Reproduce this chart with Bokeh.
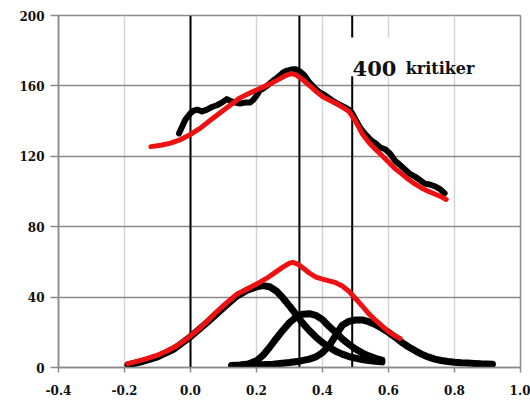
from bokeh.plotting import figure
from bokeh.models import Range1d, FixedTicker, Span, Label, BoxAnnotation
from bokeh.embed import file_html
from bokeh.resources import INLINE

# Upper panel: measured profile (black) and its smooth fit (red)
upper_meas_x = [-0.035, -0.025, -0.015, 0.0, 0.01, 0.02, 0.035, 0.05, 0.065, 0.08,
                0.095, 0.11, 0.12, 0.135, 0.15, 0.165, 0.18, 0.19, 0.2, 0.21,
                0.22, 0.235, 0.25, 0.265, 0.28, 0.29, 0.3, 0.31, 0.32, 0.333,
                0.345, 0.36, 0.375, 0.39, 0.405, 0.42, 0.435, 0.45, 0.465, 0.48,
                0.49, 0.5, 0.515, 0.53, 0.545, 0.56, 0.575, 0.59, 0.605, 0.62,
                0.635, 0.65, 0.665, 0.68, 0.695, 0.71, 0.725, 0.74, 0.755, 0.77]
upper_meas_y = [133.0, 137.0, 141.0, 144.5, 146.0, 146.5, 145.5, 146.5, 148.0, 149.0,
                150.5, 152.5, 151.5, 150.5, 150.0, 150.5, 150.5, 152.0, 154.5, 157.5,
                158.5, 160.5, 163.0, 165.0, 167.5, 168.5, 169.0, 169.5, 169.5, 168.0,
                166.0, 162.0, 159.0, 156.5, 155.0, 153.0, 151.0, 149.5, 148.0, 146.5,
                144.5, 141.0, 136.0, 132.5, 129.5, 127.5, 125.0, 124.0, 121.5, 117.5,
                115.0, 112.5, 110.0, 108.5, 106.5, 104.5, 104.0, 103.0, 101.5, 99.0]

upper_fit_x = [-0.12, -0.09, -0.06, -0.03, 0.0, 0.03, 0.06, 0.09, 0.12, 0.15,
               0.18, 0.21, 0.24, 0.27, 0.29, 0.305, 0.32, 0.34, 0.36, 0.38,
               0.40, 0.42, 0.44, 0.46, 0.48, 0.50, 0.52, 0.54, 0.56, 0.58,
               0.60, 0.62, 0.64, 0.66, 0.68, 0.70, 0.72, 0.74, 0.76, 0.775]
upper_fit_y = [125.5, 126.3, 127.5, 129.5, 132.4, 136.0, 140.5, 144.8, 149.0, 153.2,
               156.0, 158.5, 161.0, 164.0, 166.0, 167.0, 166.3, 163.5, 160.3, 157.0,
               154.0, 152.0, 150.3, 148.0, 145.5, 140.0, 133.0, 128.0, 124.0, 120.5,
               116.8, 113.0, 110.0, 107.0, 104.3, 102.0, 100.2, 98.6, 97.0, 95.5]

# Lower panel: three fitted components (black) and their total (red)
comp1_x = [-0.19, -0.15, -0.1, -0.05, 0.0, 0.05, 0.1, 0.14, 0.17, 0.2,
           0.22, 0.24, 0.26, 0.28, 0.3, 0.32, 0.34, 0.36, 0.38, 0.4,
           0.42, 0.44, 0.46, 0.48, 0.5, 0.52, 0.54, 0.56, 0.58]
comp1_y = [1.5, 3.2, 6.0, 10.5, 17.5, 25.5, 34.0, 40.5, 43.8, 45.8,
           46.5, 45.9, 43.5, 39.5, 35.0, 30.0, 25.2, 21.0, 17.3, 14.1,
           11.6, 9.2, 7.6, 6.2, 5.3, 4.5, 3.9, 3.5, 3.2]

comp2_x = [0.125, 0.15, 0.175, 0.2, 0.22, 0.24, 0.26, 0.28, 0.3, 0.32,
           0.34, 0.36, 0.38, 0.4, 0.42, 0.44, 0.46, 0.48, 0.5, 0.52,
           0.54, 0.56, 0.58]
comp2_y = [1.2, 1.4, 2.0, 3.8, 7.0, 11.5, 16.5, 21.2, 25.5, 28.6,
           30.3, 30.6, 29.6, 27.2, 23.3, 20.0, 16.2, 13.2, 10.5, 8.3,
           6.6, 5.2, 4.2]

comp3_x = [0.125, 0.15, 0.2, 0.25, 0.3, 0.33, 0.36, 0.38, 0.4, 0.42,
           0.44, 0.46, 0.48, 0.5, 0.52, 0.54, 0.56, 0.58, 0.6, 0.62,
           0.64, 0.66, 0.68, 0.7, 0.72, 0.74, 0.76, 0.78, 0.8, 0.82,
           0.84, 0.86, 0.88, 0.9, 0.915]
comp3_y = [1.2, 1.2, 1.4, 1.8, 2.8, 3.6, 4.8, 6.0, 8.5, 12.3,
           18.3, 24.0, 26.2, 27.0, 27.0, 26.0, 24.5, 22.3, 20.0, 17.3,
           14.3, 11.8, 9.6, 7.6, 6.0, 4.8, 4.0, 3.4, 3.0, 2.7,
           2.5, 2.3, 2.1, 2.0, 1.9]

total_x = [-0.19, -0.16, -0.13, -0.10, -0.07, -0.04, -0.01, 0.02, 0.05, 0.08,
           0.11, 0.14, 0.17, 0.2, 0.23, 0.26, 0.28, 0.3, 0.31, 0.325,
           0.34, 0.36, 0.38, 0.4, 0.42, 0.44, 0.46, 0.48, 0.5, 0.52,
           0.54, 0.56, 0.58, 0.6, 0.62, 0.635]
total_y = [2.2, 3.6, 5.2, 7.0, 9.5, 12.5, 16.5, 21.0, 26.2, 31.8,
           36.8, 41.6, 44.5, 47.4, 50.6, 54.5, 57.0, 59.3, 59.7, 58.8,
           56.7, 53.7, 51.3, 50.2, 49.2, 48.2, 46.3, 43.3, 39.2, 35.0,
           30.6, 27.0, 23.7, 20.4, 17.9, 16.5]

# Reference positions (vertical markers) and axis ticks
marker_positions = [0.0, 0.33, 0.49]
x_ticks = [-0.4, -0.2, 0.0, 0.2, 0.4, 0.6, 0.8, 1.0]
x_tick_labels = ["-0.4", "-0.2", "0.0", "0.2", "0.4", "0.6", "0.8", "1.0"]
y_ticks = [0, 40, 80, 120, 160, 200]
y_tick_labels = ["0", "40", "80", "120", "160", "200"]
annotation_number = "400"
annotation_word = "kritiker"

FONT = "DejaVu Serif"
RED = "#ee1111"
BLACK = "#000000"

p = figure(width=530, height=400, output_backend="svg", toolbar_location=None,
           x_range=Range1d(-0.4, 1.0), y_range=Range1d(0, 200),
           min_border_left=58, min_border_right=10, min_border_top=15,
           min_border_bottom=33)
p.background_fill_color = "white"
p.border_fill_color = "white"
p.outline_line_color = "#8a8a8a"
p.outline_line_width = 1.5

# grid
p.xgrid.ticker = FixedTicker(ticks=x_ticks)
p.ygrid.ticker = FixedTicker(ticks=y_ticks)
p.xgrid.grid_line_color = "#d4d4d4"
p.xgrid.grid_line_width = 1.5
p.ygrid.grid_line_color = "#8a8a8a"
p.ygrid.grid_line_width = 1.5

# axes
for ax, ticks, labels in ((p.xaxis[0], x_ticks, x_tick_labels),
                          (p.yaxis[0], y_ticks, y_tick_labels)):
    ax.ticker = FixedTicker(ticks=ticks)
    ax.major_label_overrides = {t: l for t, l in zip(ticks, labels)}
    ax.axis_line_color = "#8a8a8a"
    ax.axis_line_width = 1.5
    ax.major_tick_line_color = "#8a8a8a"
    ax.major_tick_line_width = 1.5
    ax.minor_tick_line_color = None
    ax.major_tick_in = 0
    ax.major_label_text_font = FONT
    ax.major_label_text_font_style = "bold"
    ax.major_label_text_font_size = "12px"
    ax.major_label_text_color = "#111111"
p.xaxis.major_tick_out = 5
p.xaxis.major_label_standoff = 12
p.yaxis.major_tick_out = 8
p.yaxis.major_label_standoff = 6

# vertical reference markers
for pos in marker_positions:
    p.add_layout(Span(location=pos, dimension="height", line_color=BLACK,
                      line_width=2, level="underlay"))

# curves
p.line(upper_meas_x, upper_meas_y, line_color=BLACK, line_width=6,
       line_join="round", line_cap="round")
p.line(upper_fit_x, upper_fit_y, line_color=RED, line_width=5,
       line_join="round", line_cap="round")

for cx, cy in ((comp1_x, comp1_y), (comp2_x, comp2_y), (comp3_x, comp3_y)):
    p.line(cx, cy, line_color=BLACK, line_width=7,
           line_join="round", line_cap="round")
p.line(total_x, total_y, line_color=RED, line_width=5,
       line_join="round", line_cap="round")

# white patch behind the caption, interrupting the marker line
p.add_layout(BoxAnnotation(left=0.478, right=0.64, bottom=165.5, top=187.5,
                           fill_color="white", fill_alpha=1.0,
                           line_color=None))

# caption
p.add_layout(Label(x=0.491, y=170, text=annotation_number, text_font=FONT,
                   text_font_style="bold", text_font_size="21px",
                   text_color="#111111", text_baseline="alphabetic"))
p.add_layout(Label(x=0.652, y=170, text=annotation_word, text_font=FONT,
                   text_font_style="bold", text_font_size="16px",
                   text_color="#111111", text_baseline="alphabetic"))

open("out.html", "w").write(file_html(p, INLINE))
